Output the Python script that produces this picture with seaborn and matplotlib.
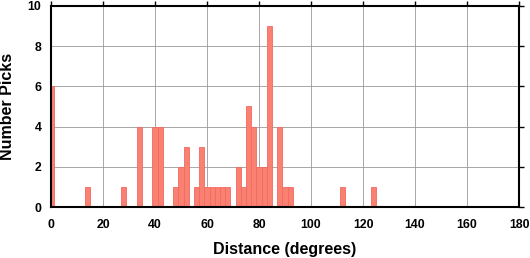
import numpy as np
import pandas as pd
import matplotlib
matplotlib.use("Agg")
import matplotlib.pyplot as plt
import seaborn as sns

# Data: bin centres (degrees, 2-degree bins) and pick counts
distance = [0, 14, 28, 34, 40, 42, 48, 50, 52, 56, 58, 60, 62, 64, 66, 68,
            72, 74, 76, 78, 80, 82, 84, 88, 90, 92, 112, 124]
picks = [6, 1, 1, 4, 4, 4, 1, 2, 3, 1, 3, 1, 1, 1, 1, 1,
         2, 1, 5, 4, 2, 2, 9, 4, 1, 1, 1, 1]
x_ticks = [0, 20, 40, 60, 80, 100, 120, 140, 160, 180]
y_ticks = [0, 2, 4, 6, 8, 10]

sns.set_style("white")
plt.rcParams['font.family'] = ['Liberation Sans', 'DejaVu Sans']
plt.rcParams['text.color'] = 'black'
plt.rcParams['axes.labelcolor'] = 'black'
plt.rcParams['xtick.color'] = 'black'
plt.rcParams['ytick.color'] = 'black'

df = pd.DataFrame({"distance": distance, "picks": picks})

fig = plt.figure(figsize=(5.30, 2.58), dpi=100)
ax = fig.add_axes([51/530, 1-207/258, 468/530, 201/258])

sns.histplot(data=df, x="distance", weights="picks", binwidth=2, binrange=(-1, 181),
             color="#fa8072", edgecolor="#f26a60", linewidth=0.6, alpha=1.0,
             ax=ax, zorder=3)

ax.set_xlim(0, 180)
ax.set_ylim(0, 10)
ax.set_xticks(x_ticks)
ax.set_yticks(y_ticks)
ax.grid(True, color="#9a9a9a", linewidth=0.6, zorder=0)
ax.set_axisbelow(True)

ax.tick_params(axis="both", which="both", direction="out", length=3.5, width=1,
               labelsize=8.8, top=True, right=True, labeltop=False, labelright=False,
               colors="black")
ax.tick_params(axis="x", pad=5)
ax.tick_params(axis="y", pad=3.5)
for lab in ax.get_xticklabels() + ax.get_yticklabels():
    lab.set_fontweight("bold")
for sp in ax.spines.values():
    sp.set_linewidth(1.5)
    sp.set_color("black")
    sp.set_zorder(5)

ax.set_xlabel("Distance (degrees)", fontsize=11.5, fontweight="bold", labelpad=8)
ax.set_ylabel("Number Picks", fontsize=11.5, fontweight="bold", labelpad=9)

fig.savefig("out.png", dpi=100)
